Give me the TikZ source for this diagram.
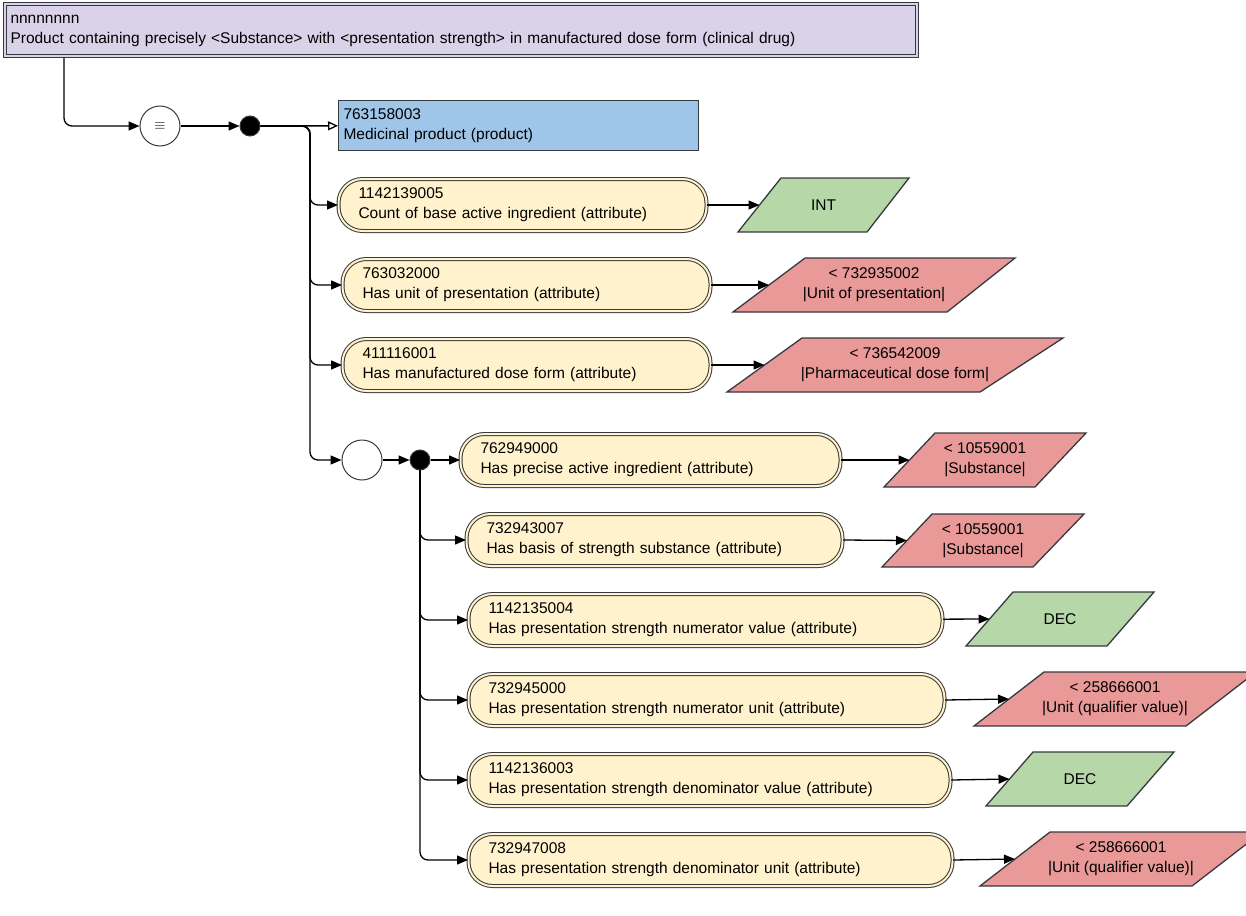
\documentclass[tikz,border=0pt]{standalone}
\usepackage{fontspec}
\setmainfont{Liberation Sans}
\usetikzlibrary{arrows.meta}
\definecolor{lav}{HTML}{D9D2E9}
\definecolor{blu}{HTML}{9FC5E8}
\definecolor{grn}{HTML}{B6D7A8}
\definecolor{rd}{HTML}{EA9999}
\definecolor{yel}{HTML}{FFF2CC}
\definecolor{ln}{HTML}{36393D}
\newcommand{\mypara}[9]{%
  \filldraw[fill=#8,draw=ln,line width=1.3pt,line join=miter] (#2,#7)--(#3,#6)--(#4,#6)--(#5,#7)--cycle;
  \coordinate (#1-w) at ({(#2+#3)/2},{(#6+#7)/2});
  \node[align=center,font=\myfont] (#1) at ({(#2+#4)/2},{(#6+#7)/2}) {#9};}
\newcommand{\myfont}{\fontsize{15.5}{20}\selectfont}
\begin{document}
\begin{tikzpicture}[x=1pt,y=-1pt,
  arr/.style={-{Triangle[length=11pt,width=9pt]},line width=1.3pt,rounded corners=8pt},
  attr/.style={draw=ln,double=yel,double distance=2pt,line width=1pt,fill=yel,
     rounded corners=24pt,minimum height=52pt,inner xsep=20pt,align=left,anchor=west,
     text width=#1,font=\myfont},
  every node/.style={font=\myfont}]
\useasboundingbox (0,0) rectangle (1246,915);
\node[draw=ln,double=lav,double distance=2pt,line width=1pt,fill=lav,anchor=north west,
  minimum width=912pt,minimum height=52pt,text width=900pt,inner xsep=6pt,align=left] (top) at (4,4)
  {nnnnnnnn\\Product containing precisely <Substance> with <presentation strength> in manufactured dose form (clinical drug)};
\node[circle,draw=ln,line width=1pt,fill=white,minimum size=40pt,inner sep=0pt] (eq) at (160,126) {$\equiv$};
\node[circle,draw=ln,line width=1pt,fill=black,minimum size=20pt,inner sep=0pt] (d1) at (250,126) {};
\node[draw=ln,line width=1pt,fill=blu,anchor=west,minimum width=360pt,minimum height=49pt,text width=350pt,inner xsep=5pt,align=left] (blue) at (338,125.5) {763158003\\Medicinal product (product)};
\node[attr=328pt] (a1) at (338,205) {1142139005\\Count of base active ingredient (attribute)};
\node[attr=328pt] (a2) at (342,285) {763032000\\Has unit of presentation (attribute)};
\node[attr=328pt] (a3) at (342,365) {411116001\\Has manufactured dose form (attribute)};
\node[circle,draw=ln,line width=1pt,fill=white,minimum size=40pt,inner sep=0pt] (c2) at (362,460) {};
\node[circle,draw=ln,line width=1pt,fill=black,minimum size=20pt,inner sep=0pt] (d2) at (420,460) {};
\node[attr=340pt] (b1) at (460,460) {762949000\\Has precise active ingredient (attribute)};
\node[attr=336pt] (b2) at (466,540) {732943007\\Has basis of strength substance (attribute)};
\node[attr=434pt] (b3) at (468,620) {1142135004\\Has presentation strength numerator value (attribute)};
\node[attr=436pt] (b4) at (468,700) {732945000\\Has presentation strength numerator unit (attribute)};
\node[attr=442pt] (b5) at (468,780) {1142136003\\Has presentation strength denominator value (attribute)};
\node[attr=444pt] (b6) at (468,860) {732947008\\Has presentation strength denominator unit (attribute)};
\mypara{p1}{738}{781}{909}{867}{178}{232}{grn}{INT}
\mypara{p2}{733}{805}{1015}{947}{258}{312}{rd}{< 732935002\\|Unit of presentation|}
\mypara{p3}{727}{802}{1063}{980}{338}{392}{rd}{< 736542009\\|Pharmaceutical dose form|}
\mypara{q1}{884}{935}{1086}{1035}{433}{487}{rd}{< 10559001\\|Substance|}
\mypara{q2}{882}{932}{1084}{1033}{514}{567}{rd}{< 10559001\\|Substance|}
\mypara{q3}{966}{1013}{1154}{1107}{592}{646}{grn}{DEC}
\mypara{q4}{974}{1044}{1256}{1186}{672}{726}{rd}{< 258666001\\|Unit (qualifier value)|}
\mypara{q5}{986}{1033}{1174}{1127}{752}{806}{grn}{DEC}
\mypara{q6}{980}{1050}{1262}{1192}{832}{886}{rd}{< 258666001\\|Unit (qualifier value)|}
\coordinate (t0) at (64,58);
\coordinate (k1) at (310,126);
\coordinate (k2) at (420,470);
\draw[arr] (t0) |- (eq);
\draw[arr] (eq) -- (d1);
\draw[line width=1.3pt,-{Triangle[open,length=10pt,width=9pt]}] (d1) -- (blue);
\foreach \n in {a1,a2,a3,c2}{\draw[arr] (d1) -- (k1) |- (\n);}
\foreach \n in {b2,b3,b4,b5,b6}{\draw[arr] (k2) |- (\n);}
\draw[arr] (c2) -- (d2);
\draw[arr] (d2) -- (b1);
\draw[arr] (a1) -- (p1-w);
\draw[arr] (a2) -- (p2-w);
\draw[arr] (a3.east) -- (p3-w);
\draw[arr] (b1) -- (q1-w);
\draw[arr] (b2.east) -- (q2-w);
\draw[arr] (b3) -- (q3-w);
\draw[arr] (b4.east) -- (q4-w);
\draw[arr] (b5.east) -- (q5-w);
\draw[arr] (b6.east) -- (q6-w);
\end{tikzpicture}
\end{document}
